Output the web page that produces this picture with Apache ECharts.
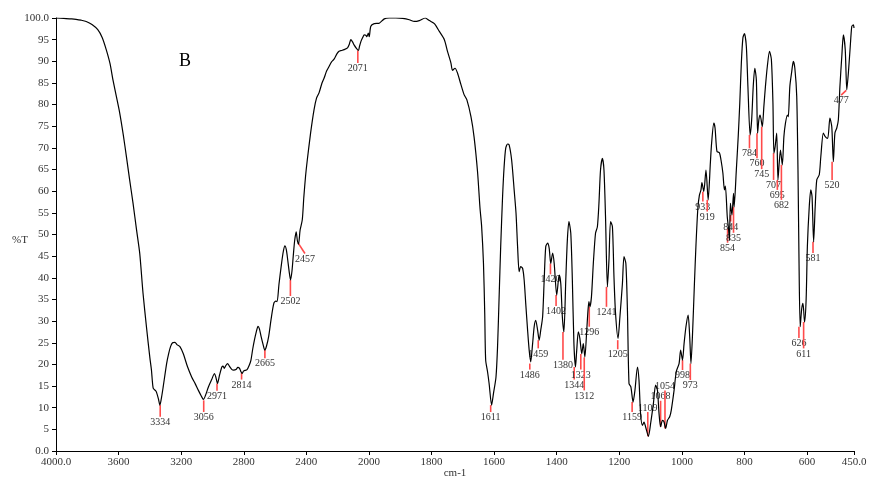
<!DOCTYPE html>
<html>
<head>
<meta charset="utf-8">
<script src="https://cdn.jsdelivr.net/npm/echarts@6/dist/echarts.min.js"></script>
<style>html,body{margin:0;padding:0;background:#fff;}#c{width:869px;height:480px;}</style>
</head>
<body>
<div id="c"></div>
<script>
// IR spectrum: [wavenumber cm-1, %T]
const spectrum = [
[4000,100.0],[3950,99.9],[3900,99.8],[3872,99.7],[3840,99.5],[3807,99.2],[3770,98.5],[3733,97.3],[3705,95.5],[3679,92.7],
[3655,89.5],[3636,85.7],[3615,82.0],[3593,78.1],[3570,73.0],[3550,68.0],[3530,62.8],[3508,57.3],[3485,51.0],[3465,45.7],
[3444,36.5],[3422,28.7],[3400,21.5],[3390,18.7],[3379,14.5],[3365,14.0],[3358,13.6],[3345,12.0],[3336,10.6],[3325,12.5],
[3315,14.8],[3293,20.2],[3280,22.5],[3268,24.1],[3255,25.0],[3240,25.1],[3225,24.5],[3208,24.1],[3187,22.5],[3160,19.5],
[3133,17.1],[3110,15.5],[3090,14.0],[3070,12.6],[3058,11.9],[3045,12.8],[3026,14.8],[3005,16.5],[2987,17.9],[2978,17.0],
[2968,15.6],[2955,17.5],[2940,19.4],[2932,19.6],[2925,19.1],[2915,19.7],[2904,20.2],[2890,19.5],[2875,18.8],[2865,18.7],
[2850,18.8],[2838,19.3],[2827,19.1],[2818,18.3],[2811,17.9],[2800,18.5],[2779,18.8],[2765,19.8],[2754,21.0],[2743,23.5],
[2732,25.6],[2720,27.5],[2709,28.8],[2700,28.2],[2689,26.4],[2676,24.5],[2666,23.3],[2655,24.2],[2641,26.4],[2625,30.5],
[2608,34.1],[2595,34.6],[2587,34.5],[2575,38.5],[2561,42.6],[2550,45.5],[2538,47.4],[2528,46.5],[2519,44.1],[2510,41.5],
[2501,39.5],[2492,41.5],[2484,44.9],[2475,48.5],[2465,50.6],[2457,48.5],[2450,47.8],[2440,51.0],[2426,53.4],[2416,58.7],
[2405,63.5],[2394,67.2],[2373,73.4],[2351,78.8],[2335,81.5],[2319,82.7],[2300,85.0],[2287,86.1],[2270,87.8],[2255,88.8],
[2240,89.8],[2223,90.5],[2205,91.7],[2191,92.3],[2175,92.5],[2159,92.7],[2137,93.1],[2125,94.0],[2116,95.0],[2105,94.5],
[2095,93.8],[2080,93.0],[2067,92.5],[2060,93.5],[2051,94.6],[2040,95.5],[2030,96.1],[2020,96.0],[2013,95.7],[2004,96.5],
[1999,95.7],[1994,98.1],[1983,98.7],[1967,98.8],[1951,99.8],[1935,100.0],[1914,100.0],[1892,99.9],[1871,99.6],[1855,99.2],
[1839,99.4],[1820,100.0],[1807,99.4],[1791,98.7],[1775,96.9],[1759,95.0],[1749,92.3],[1738,89.6],[1733,87.9],[1725,88.4],
[1717,87.3],[1706,84.6],[1696,82.3],[1687,81.1],[1674,77.2],[1664,72.5],[1653,64.5],[1645,56.0],[1640,52.0],[1634,43.3],
[1630,31.8],[1627,21.0],[1621,18.3],[1616,15.6],[1608,10.6],[1602,13.3],[1594,17.1],[1589,24.1],[1584,35.6],[1579,47.2],
[1573,58.7],[1568,65.7],[1563,69.9],[1557,70.9],[1552,70.7],[1544,67.2],[1536,60.3],[1530,54.9],[1525,47.2],[1520,41.4],
[1515,42.6],[1509,42.2],[1504,39.5],[1499,34.1],[1493,27.9],[1488,23.3],[1483,20.6],[1477,24.8],[1472,28.7],[1467,30.2],
[1461,27.9],[1456,25.6],[1451,27.9],[1445,31.0],[1440,39.5],[1435,47.2],[1429,48.0],[1424,46.8],[1419,43.3],[1413,45.7],
[1408,43.3],[1400,36.0],[1394,39.9],[1392,40.6],[1387,38.7],[1382,31.0],[1377,27.5],[1371,39.5],[1366,48.7],[1361,53.0],
[1355,50.3],[1350,39.5],[1345,24.8],[1340,19.4],[1336,23.3],[1331,27.5],[1326,26.0],[1320,22.5],[1315,24.8],[1310,21.7],
[1304,27.9],[1300,32.5],[1297,34.5],[1294,33.3],[1289,35.6],[1283,43.3],[1276,50.3],[1270,51.8],[1265,57.2],[1260,64.9],
[1254,67.6],[1249,64.9],[1244,54.1],[1238,37.9],[1233,44.1],[1228,53.0],[1222,51.8],[1217,40.2],[1212,31.8],[1204,26.0],
[1198,31.0],[1190,38.7],[1185,44.9],[1179,43.3],[1174,32.5],[1169,15.6],[1163,14.8],[1156,11.3],[1150,14.0],[1142,19.4],
[1137,16.3],[1132,8.6],[1126,5.9],[1121,6.7],[1116,5.6],[1107,3.4],[1100,6.3],[1091,11.0],[1084,15.2],[1078,14.0],
[1073,8.6],[1068,5.6],[1062,7.1],[1057,6.7],[1052,5.2],[1046,7.1],[1039,7.9],[1034,9.4],[1025,14.0],[1018,18.3],
[1009,20.2],[1004,23.3],[998,21.0],[993,24.8],[987,28.7],[980,31.4],[975,26.4],[971,20.2],[966,27.0],[960,38.5],
[955,47.5],[949,56.0],[944,59.1],[939,60.3],[936,62.0],[930,59.9],[923,64.9],[916,58.0],[909,66.5],[905,71.1],
[898,75.7],[894,74.6],[888,69.2],[880,68.9],[875,67.2],[869,64.2],[864,60.3],[861,61.2],[855,54.1],[851,51.4],
[848,48.7],[845,57.2],[840,54.5],[835,59.5],[833,56.4],[826,64.9],[820,72.6],[815,80.3],[810,89.6],[805,95.4],
[800,96.4],[794,93.4],[789,84.2],[782,73.0],[777,76.5],[772,84.2],[767,88.4],[762,85.7],[758,73.4],[754,76.5],
[750,77.6],[743,74.9],[738,79.6],[733,84.2],[727,88.8],[720,92.3],[714,90.4],[709,80.3],[706,68.8],[702,70.3],
[697,73.4],[693,62.6],[689,66.5],[685,69.5],[679,66.1],[674,72.6],[669,75.7],[663,77.6],[660,77.2],[655,84.2],
[649,87.6],[644,90.0],[639,88.4],[633,81.9],[629,64.9],[626,45.7],[622,28.7],[617,32.9],[613,34.1],[608,29.8],
[603,34.9],[599,47.2],[593,56.4],[588,60.3],[584,58.7],[579,48.3],[574,56.4],[569,62.6],[561,63.8],[556,68.0],
[548,73.4],[542,72.6],[534,72.2],[527,76.9],[521,74.9],[516,66.8],[511,73.4],[505,74.6],[500,76.5],[495,84.2],
[489,91.1],[484,96.1],[478,92.7],[473,83.4],[468,87.3],[462,93.4],[457,98.1],[452,98.4],[450,97.7]
];

// Peak annotations
const peakLabels = ['3334','3056','2971','2814','2665','2502','2457','2071','1611','1486','1459','1420','1402','1380','1344','1323','1312','1296','1241','1205','1159','1109','1068','1054','998','973','933','919','854','844','835','784','760','745','707','695','682','626','611','581','520','477'];
const peakStartWn = [3334,3056,2971,2814,2665,2502,2452,2071,1611,1486,1459,1420,1402,1380,1344,1323,1312,1296,1241,1205,1159,1109,1068,1054,998,973,933,919,854,844,835,784,760,745,707,695,682,626,611,581,520,475];
const peakEndWn   = [3334,3056,2971,2814,2665,2502,2409,2071,1611,1486,1459,1420,1402,1380,1344,1323,1312,1296,1241,1205,1159,1109,1068,1054,998,973,933,919,854,844,835,784,760,745,707,695,682,626,611,581,520,491];
const peakStartT  = [10.6,11.7,15.6,18.0,23.4,39.5,48.0,92.5,10.6,20.2,25.6,43.3,36.0,27.5,19.4,22.4,21.6,33.3,37.9,25.6,11.3,3.4,5.6,5.2,21.0,20.2,59.9,58.0,51.4,54.5,56.4,73.0,73.4,74.9,68.8,62.6,66.1,28.7,29.8,48.3,66.8,83.3];
const peakEndT    = [7.9,9.0,13.9,16.5,21.4,35.8,45.6,89.6,9.0,18.8,23.7,40.8,33.5,21.1,16.5,18.8,14.0,28.7,33.3,23.5,9.0,9.0,11.6,14.0,18.7,16.4,57.6,55.3,48.1,53.0,50.4,69.9,67.6,65.1,62.6,60.3,58.0,26.1,23.7,45.7,62.6,82.2];

// Axis tick labels (wavenumber) and %T ticks
const xTickWn = [4000,3600,3200,2800,2400,2000,1800,1600,1400,1200,1000,800,600,450];
const yTickFormat = {0:'0.0',100:'100.0'};
const xAxisTitle = 'cm-1';
const yAxisTitle = '%T';
const panelLetter = 'B';

// Display scale: 4000-2000 compressed 2x relative to 2000-450
function toU(w){ return w >= 2000 ? (4000 - w) / 2 : 1000 + (2000 - w); }
function fromU(u){ return u <= 1000 ? 4000 - 2 * u : 2000 - (u - 1000); }

const lineData = spectrum.map(p => [toU(p[0]), p[1]]);
const peakData = peakLabels.map((t, i) => [toU(peakStartWn[i]), peakStartT[i], toU(peakEndWn[i]), peakEndT[i], i]);

const chart = echarts.init(document.getElementById('c'), null, {renderer: 'canvas'});
const font = '"Liberation Serif","Times New Roman",serif';
chart.setOption({
  animation: false,
  backgroundColor: '#fff',
  grid: {left: 56, right: 15, top: 18, bottom: 29, containLabel: false, outerBoundsMode: 'none'},
  xAxis: {
    type: 'value', min: toU(4000), max: toU(450), interval: 200,
    axisLine: {show: true, lineStyle: {color: '#000', width: 1}},
    axisTick: {show: true, length: 4, lineStyle: {color: '#000'}},
    splitLine: {show: false},
    axisLabel: {
      fontFamily: font, fontSize: 11, color: '#333', margin: 6,
      showMinLabel: true, showMaxLabel: true,
      formatter: function(v){
        const w = Math.round(fromU(v));
        if (w === xTickWn[0] || w === xTickWn[xTickWn.length-1]) return w.toFixed(1);
        return String(w);
      }
    }
  },
  yAxis: {
    type: 'value', min: 0, max: 100, interval: 5,
    axisLine: {show: true, lineStyle: {color: '#000', width: 1}},
    axisTick: {show: true, length: 4, lineStyle: {color: '#000'}},
    splitLine: {show: false},
    axisLabel: {
      fontFamily: font, fontSize: 11, color: '#333', margin: 7,
      formatter: function(v){ return yTickFormat[v] !== undefined ? yTickFormat[v] : String(v); }
    }
  },
  graphic: [
    {type: 'text', left: 179, top: 52,
     style: {text: panelLetter, fontFamily: font, fontSize: 18, fill: '#000'}},
    {type: 'text', x: 20, y: 240,
     style: {text: yAxisTitle, fontFamily: font, fontSize: 11, fill: '#333', align: 'center', verticalAlign: 'middle'}},
    {type: 'text', x: 455, y: 473,
     style: {text: xAxisTitle, fontFamily: font, fontSize: 11, fill: '#333', align: 'center', verticalAlign: 'middle'}}
  ],
  series: [
    {
      type: 'custom',
      silent: true,
      z: 3,
      data: peakData,
      renderItem: function(params, api){
        const p1 = api.coord([api.value(0), api.value(1)]);
        const p2 = api.coord([api.value(2), api.value(3)]);
        const up = api.value(3) > api.value(1);
        const idx = api.value(4);
        return {
          type: 'group',
          children: [
            {type: 'line', shape: {x1: p1[0], y1: p1[1], x2: p2[0], y2: p2[1]},
             style: {stroke: '#ff4a4a', lineWidth: 1.6}},
            {type: 'text', x: p2[0], y: up ? p2[1] + 1 : p2[1] + 0.5,
             style: {text: peakLabels[idx], fontFamily: font, fontSize: 10, fill: '#333',
                     align: 'center', verticalAlign: up ? 'bottom' : 'top'}}
          ]
        };
      }
    },
    {
      type: 'line',
      data: lineData,
      showSymbol: false,
      smooth: 0.25,
      z: 4,
      lineStyle: {color: '#000', width: 1.2},
      silent: true
    }
  ]
});
</script>
</body>
</html>
